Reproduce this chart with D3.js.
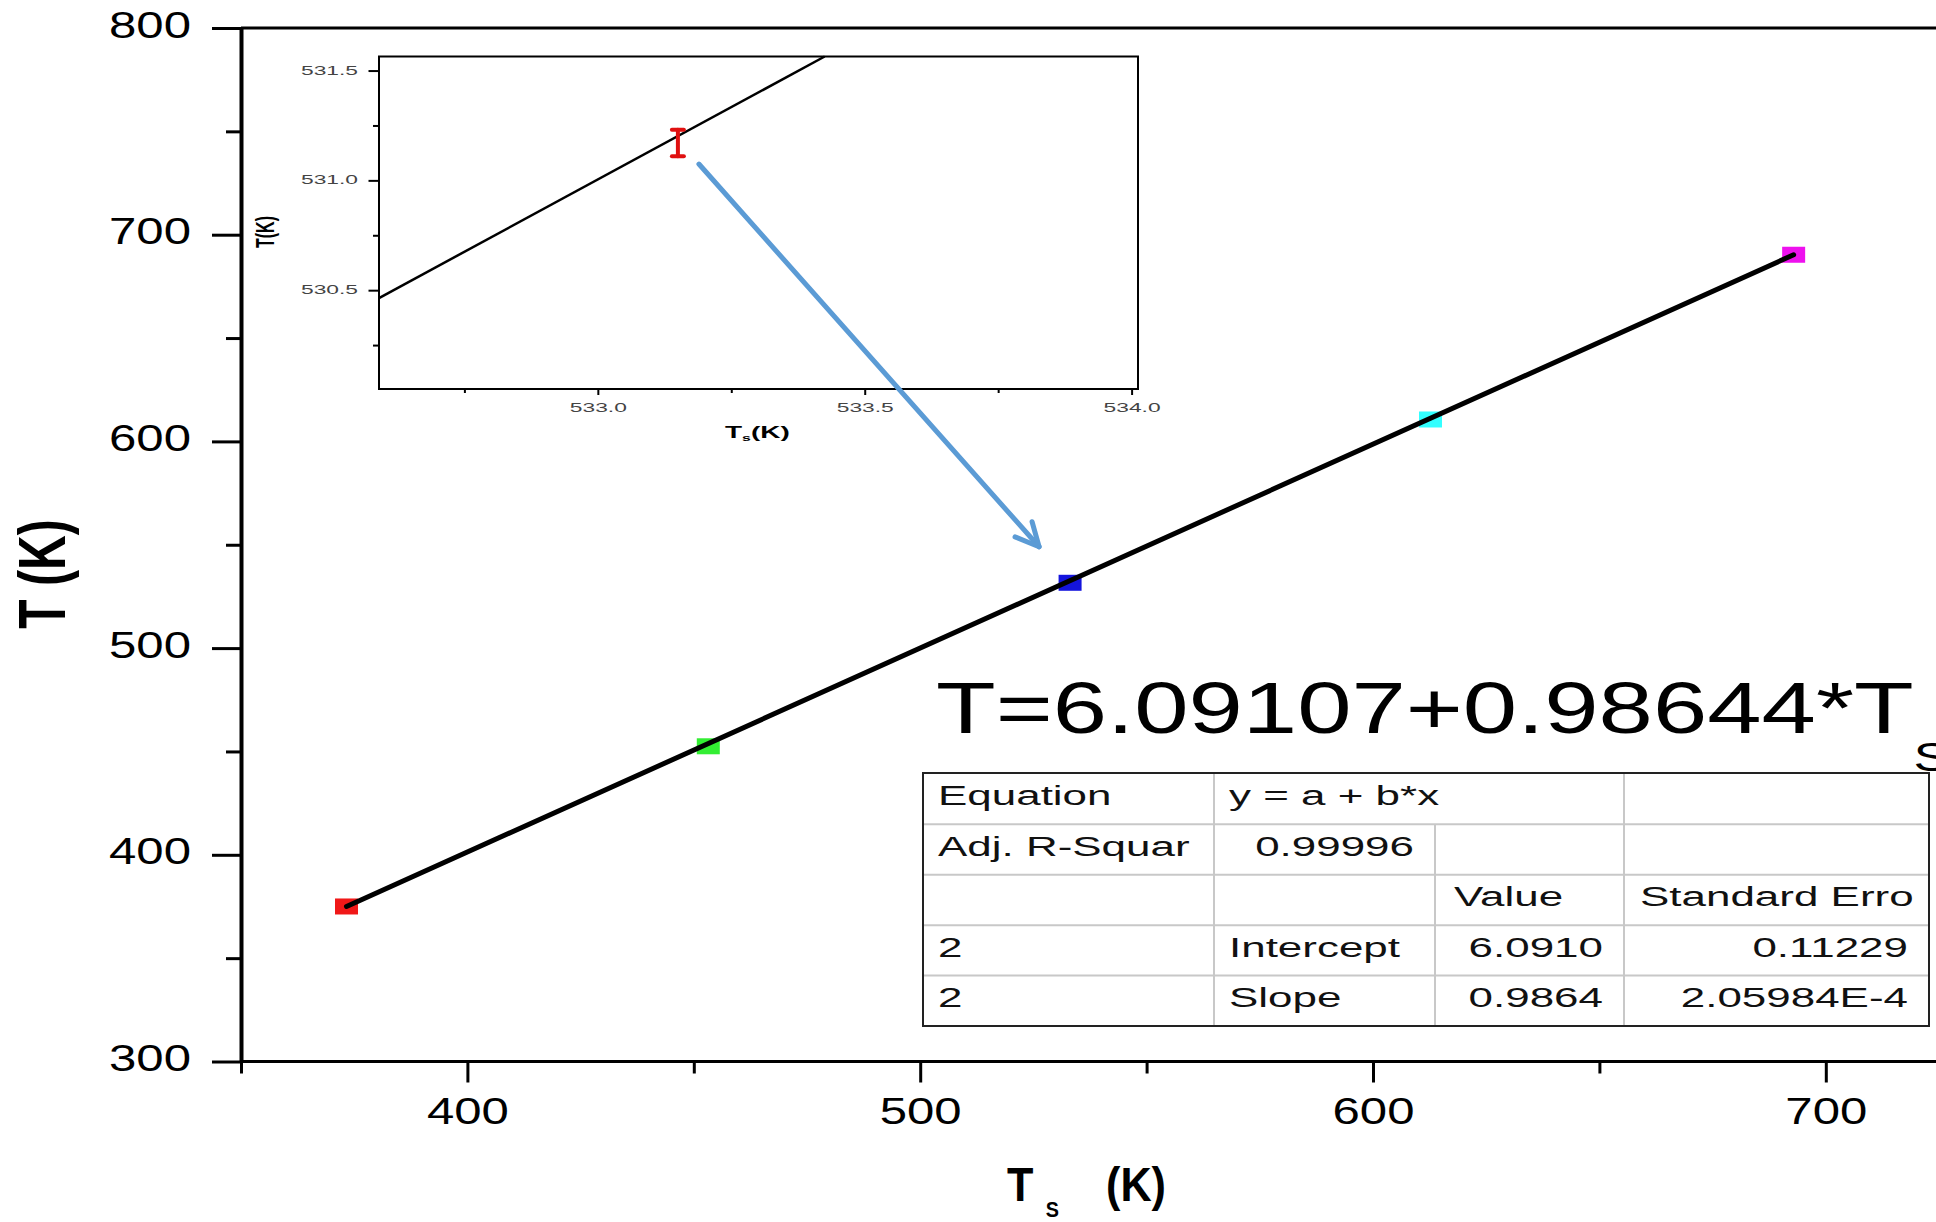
<!DOCTYPE html>
<html><head><meta charset="utf-8">
<script src="https://cdn.jsdelivr.net/npm/d3@7"></script>
<style>body{margin:0;background:#fff;overflow:hidden} svg{display:block;font-family:"Liberation Sans",Arial,sans-serif}</style>
</head><body><svg id="c" width="1936" height="1222"></svg>
<script>
// ---------- data ----------
const pointTs = [373.3, 453.2, 533.1, 612.7, 692.9];
const pointT  = [375.0, 452.5, 531.6, 610.6, 690.3];
const pointColors = ["#f01818", "#33ee33", "#1414dd", "#33ffff", "#ee11ee"];
const fitTs = [373.3, 692.9];
const fitT  = [375.0, 690.3];
const xTicks = [400, 500, 600, 700];
const xMinorTicks = [350, 450, 550, 650];
const yTicks = [300, 400, 500, 600, 700, 800];
const yMinorTicks = [350, 450, 550, 650, 750];

const insetPointTs = [533.15];
const insetPointT  = [531.17];
const insetErr     = [0.06];
const insetLineTs  = [532.59, 533.425];
const insetLineT   = [530.464, 531.564];
const insetXTicks  = [533.0, 533.5, 534.0];
const insetXMinor  = [532.75, 533.25, 533.75];
const insetYTicks  = [530.5, 531.0, 531.5];
const insetYMinor  = [530.25, 530.75, 531.25];

const equationText = "T=6.09107+0.98644*T";
const equationSub = "S";
const tableRow1 = ["Equation", "y = a + b*x", "", ""];
const tableRow2 = ["Adj. R-Squar", "0.99996", "", ""];
const tableRow3 = ["", "", "Value", "Standard Erro"];
const tableRow4 = ["2", "Intercept", "6.0910", "0.11229"];
const tableRow5 = ["2", "Slope", "0.9864", "2.05984E-4"];
const tableRows = [tableRow1, tableRow2, tableRow3, tableRow4, tableRow5];
const tableAlign = [
  ["start","start","start","start"],
  ["start","end","start","start"],
  ["start","start","start","start"],
  ["start","start","end","end"],
  ["start","start","end","end"]
];

// ---------- layout ----------
const svg = d3.select("#c");
const x = d3.scaleLinear().domain([350, 750]).range([241, 241 + 4 * 452.8]);
const y = d3.scaleLinear().domain([300, 800]).range([1061.5, 28]);
const SX = 1.365;

// top frame line
svg.append("line").attr("x1", x(350)).attr("x2", 1936).attr("y1", y(800)).attr("y2", y(800))
  .attr("stroke", "#000").attr("stroke-width", 3);

// minor ticks
svg.append("g").attr("transform", `translate(0,${y(300)})`)
  .call(d3.axisBottom(x).tickValues(xMinorTicks).tickSize(12).tickFormat("").tickSizeOuter(0))
  .call(g => g.select(".domain").remove())
  .call(g => g.selectAll("line").attr("stroke-width", 3));
svg.append("g").attr("transform", `translate(${x(350)},0)`)
  .call(d3.axisLeft(y).tickValues(yMinorTicks).tickSize(15).tickFormat("").tickSizeOuter(0))
  .call(g => g.select(".domain").remove())
  .call(g => g.selectAll("line").attr("stroke-width", 3));

// x axis
const gx = svg.append("g").attr("transform", `translate(0,${y(300)})`)
  .call(d3.axisBottom(x).tickValues(xTicks).tickSize(21).tickSizeOuter(0).tickFormat(d3.format("d")));
gx.select(".domain").attr("stroke-width", 3).attr("d", `M${x(350)},0H1936`);
gx.selectAll(".tick line").attr("stroke-width", 3);
gx.selectAll(".tick text").attr("y", null).attr("dy", null).attr("x", 0)
  .attr("transform", `translate(0,62.5) scale(${SX},1)`)
  .attr("text-anchor", "middle").attr("fill", "#000")
  .style("font-size", "36px").style("font-family", "Liberation Sans, Arial, sans-serif");

// y axis
const gy = svg.append("g").attr("transform", `translate(${x(350)},0)`)
  .call(d3.axisLeft(y).tickValues(yTicks).tickSize(29).tickSizeOuter(0).tickFormat(d3.format("d")));
gy.select(".domain").attr("stroke-width", 4);
gy.selectAll(".tick line").attr("stroke-width", 3);
gy.selectAll(".tick text").attr("x", 0).attr("dy", null)
  .attr("transform", `translate(-50,9) scale(${SX},1)`)
  .attr("text-anchor", "end").attr("fill", "#000")
  .style("font-size", "36px").style("font-family", "Liberation Sans, Arial, sans-serif");

// axis titles
svg.append("text").attr("transform", "translate(65,574) scale(1.37,1) rotate(-90)")
  .attr("text-anchor", "middle").style("font-size", "48px").style("font-weight", "bold")
  .text("T (K)");
const xt = svg.append("g").attr("transform", "translate(1007,1201) scale(0.9,1)");
xt.append("text").attr("x", 0).style("font-size", "48px").style("font-weight", "bold").text("T");
xt.append("text").attr("x", 43).attr("y", 16).style("font-size", "22px").style("font-weight", "bold").text("S");
xt.append("text").attr("x", 110).style("font-size", "48px").style("font-weight", "bold").text("(K)");

// markers
const pts = pointTs.map((v, i) => ({ x: v, y: pointT[i], c: pointColors[i] }));
svg.append("g").selectAll("rect").data(pts).join("rect")
  .attr("x", d => x(d.x) - 11.5).attr("y", d => y(d.y) - 8)
  .attr("width", 23).attr("height", 16).attr("fill", d => d.c);

// fit line
svg.append("path")
  .attr("d", d3.line().x(d => x(d[0])).y(d => y(d[1]))(fitTs.map((v, i) => [v, fitT[i]])))
  .attr("stroke", "#000").attr("stroke-width", 5).attr("fill", "none").attr("stroke-linecap", "round");

// ---------- inset ----------
const ix = d3.scaleLinear().domain([532.59, 534.012]).range([379, 1138]);
const iy = d3.scaleLinear().domain([530.05, 531.564]).range([389, 56.5]);
const inset = svg.append("g");
inset.append("rect").attr("x", 379).attr("y", 56.5).attr("width", 1138 - 379).attr("height", 389 - 56.5)
  .attr("fill", "#fff").attr("stroke", "#000").attr("stroke-width", 2);

const igx = inset.append("g").attr("transform", `translate(0,${iy.range()[0]})`)
  .call(d3.axisBottom(ix).tickValues(insetXTicks).tickSize(6).tickSizeOuter(0).tickFormat(d3.format(".1f")));
igx.select(".domain").remove();
igx.selectAll(".tick line").attr("stroke-width", 2);
igx.selectAll(".tick text").attr("y", null).attr("dy", null).attr("x", 0)
  .attr("transform", "translate(0,22.5) scale(1.9,1)").attr("text-anchor", "middle")
  .attr("fill", "#444").style("font-size", "12px").style("font-family", "Liberation Sans, Arial, sans-serif");
inset.append("g").attr("transform", `translate(0,${iy.range()[0]})`)
  .call(d3.axisBottom(ix).tickValues(insetXMinor).tickSize(4).tickFormat("").tickSizeOuter(0))
  .call(g => g.select(".domain").remove()).call(g => g.selectAll("line").attr("stroke-width", 2));

const igy = inset.append("g").attr("transform", `translate(${ix.range()[0]},0)`)
  .call(d3.axisLeft(iy).tickValues(insetYTicks).tickSize(10.5).tickSizeOuter(0).tickFormat(d3.format(".1f")));
igy.select(".domain").remove();
igy.selectAll(".tick line").attr("stroke-width", 2);
igy.selectAll(".tick text").attr("x", 0).attr("dy", null)
  .attr("transform", "translate(-21,3.5) scale(1.9,1)").attr("text-anchor", "end")
  .attr("fill", "#444").style("font-size", "12px").style("font-family", "Liberation Sans, Arial, sans-serif");
inset.append("g").attr("transform", `translate(${ix.range()[0]},0)`)
  .call(d3.axisLeft(iy).tickValues(insetYMinor).tickSize(6).tickFormat("").tickSizeOuter(0))
  .call(g => g.select(".domain").remove()).call(g => g.selectAll("line").attr("stroke-width", 2));

inset.append("path")
  .attr("d", d3.line().x(d => ix(d[0])).y(d => iy(d[1]))(insetLineTs.map((v, i) => [v, insetLineT[i]])))
  .attr("stroke", "#000").attr("stroke-width", 2.5).attr("fill", "none");

insetPointTs.forEach((v, i) => {
  const px = ix(v), y1 = iy(insetPointT[i] - insetErr[i]), y2 = iy(insetPointT[i] + insetErr[i]);
  const g = inset.append("g").attr("stroke", "#e01010").attr("stroke-width", 4).attr("stroke-linecap", "round");
  g.append("line").attr("x1", px).attr("x2", px).attr("y1", y1).attr("y2", y2);
  g.append("line").attr("x1", px - 6).attr("x2", px + 6).attr("y1", y1).attr("y2", y1);
  g.append("line").attr("x1", px - 6).attr("x2", px + 6).attr("y1", y2).attr("y2", y2);
});

inset.append("text").attr("transform", "translate(274,232) scale(1.6,1) rotate(-90)")
  .attr("text-anchor", "middle").style("font-size", "16px").style("font-weight", "bold").text("T(K)");
const ixt = inset.append("text").attr("transform", "translate(725,438) scale(1.75,1)")
  .style("font-size", "16px").style("font-weight", "bold");
ixt.append("tspan").text("T");
ixt.append("tspan").attr("dy", 3).style("font-size", "9px").text("s");
ixt.append("tspan").attr("dy", -3).text("(K)");

// ---------- arrow ----------
const as = [ix(insetPointTs[0]) + 21, iy(insetPointT[0]) + 21];
const ae = [x(pointTs[2]) - 31, y(pointT[2]) - 36];
const ang = Math.atan2(as[1] - ae[1], as[0] - ae[0]);
const hl = 26, ha = 26 * Math.PI / 180;
const arrowCol = "#5b9bd5";
svg.append("line").attr("x1", as[0]).attr("y1", as[1]).attr("x2", ae[0]).attr("y2", ae[1])
  .attr("stroke", arrowCol).attr("stroke-width", 5).attr("stroke-linecap", "round");
svg.append("polyline")
  .attr("points", [
    [ae[0] + hl * Math.cos(ang + ha), ae[1] + hl * Math.sin(ang + ha)],
    ae,
    [ae[0] + hl * Math.cos(ang - ha), ae[1] + hl * Math.sin(ang - ha)]
  ].map(p => p.join(",")).join(" "))
  .attr("fill", "none").attr("stroke", arrowCol).attr("stroke-width", 5)
  .attr("stroke-linecap", "round").attr("stroke-linejoin", "round");

// ---------- equation ----------
const eq = svg.append("text").attr("transform", "translate(936,733) scale(1.357,1)")
  .style("font-size", "72px");
eq.append("tspan").text(equationText);
eq.append("tspan").attr("dy", 38).style("font-size", "40px").text(equationSub);

// ---------- table ----------
const colX = [923, 1214, 1435, 1624, 1929];
const rowY = [773, 824.2, 874.8, 925.2, 975.6, 1026];
const tbl = svg.append("g");
const gray = "#c8c8c8";
rowY.slice(1, -1).forEach(ry => tbl.append("line").attr("x1", colX[0]).attr("x2", colX[4])
  .attr("y1", ry).attr("y2", ry).attr("stroke", gray).attr("stroke-width", 2));
tableRows.forEach((row, r) => {
  [1, 2, 3].forEach(c => {
    if (r === 0 && c === 2) return;
    tbl.append("line").attr("x1", colX[c]).attr("x2", colX[c]).attr("y1", rowY[r]).attr("y2", rowY[r + 1])
      .attr("stroke", gray).attr("stroke-width", 2);
  });
});
tbl.append("rect").attr("x", colX[0]).attr("y", rowY[0]).attr("width", colX[4] - colX[0])
  .attr("height", rowY[5] - rowY[0]).attr("fill", "none").attr("stroke", "#222").attr("stroke-width", 2);
const TSX = 1.57;
tableRows.forEach((row, r) => {
  row.forEach((txt, c) => {
    if (!txt) return;
    const al = tableAlign[r][c];
    let tx;
    if (al === "end") tx = colX[c + 1] - 21;
    else tx = colX[c] + (c === 2 ? 19 : (c === 3 ? 16 : 15));
    tbl.append("text").attr("transform", `translate(${tx},${rowY[r] + 31.5}) scale(${TSX},1)`)
      .attr("text-anchor", al).style("font-size", "28px").attr("fill", "#111").text(txt);
  });
});
</script>
</body></html>
